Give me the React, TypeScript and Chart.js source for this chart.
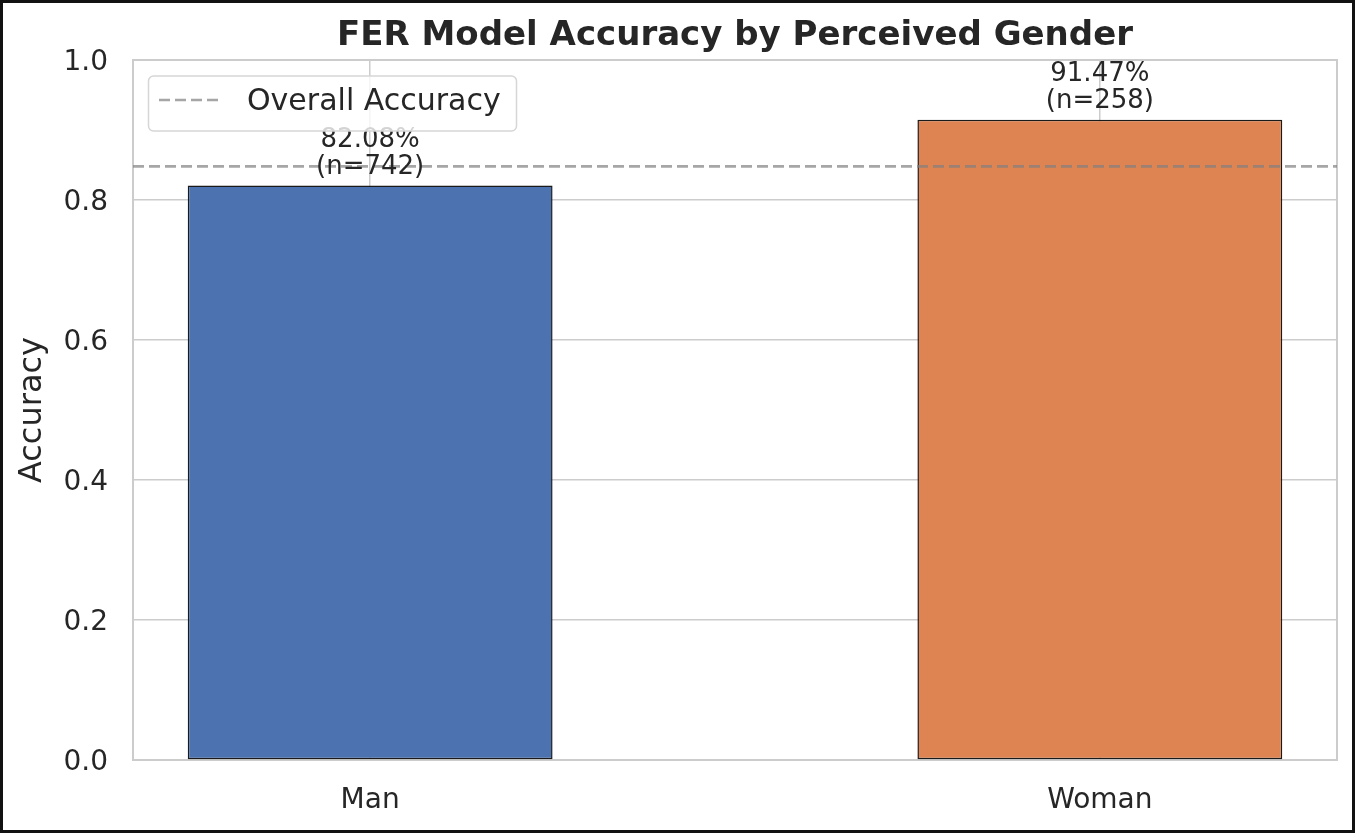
import { useEffect, useRef } from 'react';
import { Chart, registerables } from 'chart.js';
import type { Plugin } from 'chart.js';

Chart.register(...registerables);

// values
const categories = ['Man', 'Woman'];
const accuracy = [0.8208, 0.9147];
const counts = [742, 258];
const barColors = ['#4c72b0', '#dd8452'];
const overallAccuracy = 0.848;
const yTicks = [0, 0.2, 0.4, 0.6, 0.8, 1.0];
const xRange = [-0.325, 1.325];

const FONT = "'DejaVu Sans', sans-serif";
const INK = '#262626';
const GRID = '#cccccc';

// light frame around the plot area (all four spines)
const framePlugin: Plugin = {
  id: 'frame',
  beforeDatasetsDraw(chart) {
    const { ctx, chartArea: a } = chart;
    ctx.save();
    ctx.strokeStyle = GRID;
    ctx.lineWidth = 2;
    ctx.strokeRect(a.left, a.top, a.right - a.left, a.bottom - a.top);
    ctx.restore();
  },
};

// "82.08%\n(n=742)" above each bar
const barLabelPlugin: Plugin = {
  id: 'barLabels',
  afterDatasetsDraw(chart) {
    const { ctx } = chart;
    const meta = chart.getDatasetMeta(1);
    ctx.save();
    ctx.font = `26px ${FONT}`;
    ctx.fillStyle = INK;
    ctx.textAlign = 'center';
    ctx.textBaseline = 'middle';
    meta.data.forEach((bar, i) => {
      const { x, y } = bar.getProps(['x', 'y'], true) as { x: number; y: number };
      ctx.fillText(`${(accuracy[i] * 100).toFixed(2)}%`, x, y - 45);
      ctx.fillText(`(n=${counts[i]})`, x, y - 18.5);
    });
    ctx.restore();
  },
};

// matplotlib-style legend box inside the axes, upper left
const legendPlugin: Plugin = {
  id: 'insideLegend',
  afterDraw(chart) {
    const { ctx, chartArea: a } = chart;
    const ds = chart.data.datasets[0] as any;
    const bx = a.left + 15.5;
    const by = a.top + 16;
    const bw = 368;
    const bh = 55;
    const cy = by + 24;
    ctx.save();
    ctx.beginPath();
    ctx.roundRect(bx, by, bw, bh, 5);
    ctx.fillStyle = 'rgba(255,255,255,0.8)';
    ctx.fill();
    ctx.strokeStyle = '#d6d6d6';
    ctx.lineWidth = 1.5;
    ctx.stroke();

    ctx.beginPath();
    ctx.setLineDash(ds.borderDash);
    ctx.strokeStyle = ds.borderColor;
    ctx.lineWidth = ds.borderWidth;
    ctx.moveTo(bx + 10.5, cy);
    ctx.lineTo(bx + 71.5, cy);
    ctx.stroke();
    ctx.setLineDash([]);

    ctx.font = `30px ${FONT}`;
    ctx.fillStyle = INK;
    ctx.textAlign = 'left';
    ctx.textBaseline = 'middle';
    ctx.fillText(ds.label, bx + 98.5, cy + 2);
    ctx.restore();
  },
};

export default function App() {
  const canvasRef = useRef<HTMLCanvasElement>(null);

  useEffect(() => {
    if (!canvasRef.current) return;
    Chart.defaults.font.family = FONT;
    Chart.defaults.color = INK;

    const chart = new Chart(canvasRef.current, {
      type: 'bar',
      data: {
        datasets: [
          {
            type: 'line',
            label: 'Overall Accuracy',
            data: xRange.map(x => ({ x, y: overallAccuracy })),
            borderColor: 'rgba(128,128,128,0.7)',
            borderWidth: 2.7,
            borderDash: [11, 5],
            pointRadius: 0,
            fill: false,
            order: 0,
          } as any,
          {
            type: 'bar',
            label: 'Accuracy',
            data: categories.map((_, i) => ({ x: i, y: accuracy[i] })),
            backgroundColor: barColors,
            borderColor: '#1a1a1a',
            borderWidth: 1.5,
            borderSkipped: false,
            categoryPercentage: 1,
            barPercentage: 0.5,
            order: 1,
          } as any,
        ],
      },
      options: {
        animation: false,
        responsive: true,
        maintainAspectRatio: false,
        events: [],
        layout: { padding: { left: 0, right: 15, top: 0, bottom: 0 } },
        plugins: {
          legend: { display: false },
          tooltip: { enabled: false },
          title: {
            display: true,
            text: 'FER Model Accuracy by Perceived Gender',
            fullSize: false,
            color: INK,
            font: { size: 34, weight: 'bold' },
            padding: { top: 13, bottom: 3.2 },
          },
        },
        scales: {
          x: {
            type: 'linear',
            min: xRange[0],
            max: xRange[1],
            offset: false,
            afterBuildTicks: (s: any) => { s.ticks = categories.map((_, i) => ({ value: i })); },
            afterFit: (s: any) => { s.height = 70; },
            grid: { color: GRID, lineWidth: 1.5, drawTicks: false, offset: false },
            border: { display: false },
            ticks: {
              color: INK,
              font: { size: 28 },
              padding: 24,
              autoSkip: false,
              maxRotation: 0,
              callback: (v: any) => categories[v as number] ?? '',
            },
          },
          y: {
            min: 0,
            max: 1,
            afterBuildTicks: (s: any) => { s.ticks = yTicks.map(v => ({ value: v })); },
            afterFit: (s: any) => { s.width = 130; },
            grid: { color: GRID, lineWidth: 1.5, drawTicks: false },
            border: { display: false },
            ticks: {
              color: INK,
              font: { size: 28 },
              padding: 25,
              labelOffset: 3,
              callback: (v: any) => Number(v).toFixed(1),
            },
            title: {
              display: true,
              text: 'Accuracy',
              color: INK,
              font: { size: 32 },
              padding: { top: 10, bottom: 0 },
            },
          },
        },
      },
      plugins: [framePlugin, barLabelPlugin, legendPlugin],
    });

    return () => chart.destroy();
  }, []);

  return (
    <div
      style={{
        position: 'fixed',
        left: 0,
        top: 0,
        width: 1355,
        height: 833,
        boxSizing: 'border-box',
        border: '3px solid #111',
        background: '#fff',
      }}
    >
      <div style={{ position: 'relative', width: 1349, height: 827 }}>
        <canvas ref={canvasRef} />
      </div>
    </div>
  );
}
